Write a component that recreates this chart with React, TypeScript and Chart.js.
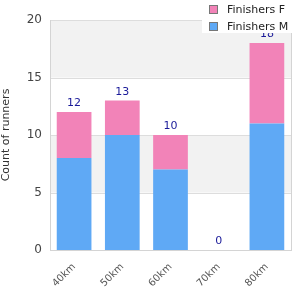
import React, { useEffect, useRef } from "react";
import { Chart, registerables } from "chart.js";
Chart.register(...registerables);

const categories = ["40km", "50km", "60km", "70km", "80km"];
const finishersM = [8, 10, 7, 0, 11];
const finishersF = [4, 3, 3, 0, 7];
const seriesNames = ["Finishers M", "Finishers F"];
const colorM = "#5fa9f5";
const colorF = "#f283b8";
const FONT = "'DejaVu Sans', sans-serif";

const bandsPlugin = {
  id: "bands",
  beforeDatasetsDraw(chart: any) {
    const { ctx, chartArea, scales } = chart;
    const y = scales.y;
    const ticks = y.ticks.map((t: any) => t.value);
    ctx.save();
    for (let i = 0; i < ticks.length - 1; i++) {
      if (i % 2 === 1) {
        const top = y.getPixelForValue(ticks[i + 1]);
        const bot = y.getPixelForValue(ticks[i]);
        ctx.fillStyle = "#f2f2f2";
        ctx.fillRect(chartArea.left, top, chartArea.right - chartArea.left, bot - top);
      }
    }
    ctx.strokeStyle = "#dddddd";
    ctx.lineWidth = 1;
    for (const v of ticks) {
      const py = Math.round(y.getPixelForValue(v)) + 0.5;
      ctx.beginPath();
      ctx.moveTo(chartArea.left, py);
      ctx.lineTo(chartArea.right, py);
      ctx.stroke();
    }
    ctx.strokeStyle = "#d4d4d4";
    ctx.beginPath();
    ctx.moveTo(Math.round(chartArea.left) + 0.5, chartArea.top);
    ctx.lineTo(Math.round(chartArea.left) + 0.5, chartArea.bottom);
    ctx.moveTo(Math.round(chartArea.right) + 0.5, chartArea.top);
    ctx.lineTo(Math.round(chartArea.right) + 0.5, chartArea.bottom + 1);
    ctx.moveTo(chartArea.left, Math.round(chartArea.bottom) + 0.5);
    ctx.lineTo(chartArea.right + 1, Math.round(chartArea.bottom) + 0.5);
    ctx.stroke();
    ctx.restore();
  },
};

const totalsPlugin = {
  id: "totals",
  afterDatasetsDraw(chart: any) {
    const { ctx, scales } = chart;
    ctx.save();
    ctx.fillStyle = "#1a1a99";
    ctx.font = `11px ${FONT}`;
    ctx.textAlign = "center";
    ctx.textBaseline = "bottom";
    categories.forEach((_, i) => {
      const total = finishersM[i] + finishersF[i];
      const x = scales.x.getPixelForValue(i);
      const y = scales.y.getPixelForValue(total) - 3;
      ctx.fillText(String(total), x, y);
    });
    ctx.restore();
  },
};

const legendPlugin = {
  id: "customLegend",
  afterDraw(chart: any) {
    const { ctx } = chart;
    ctx.save();
    ctx.fillStyle = "#ffffff";
    ctx.fillRect(202, 0, 90, 33);
    const items = [
      { label: seriesNames[1], color: colorF },
      { label: seriesNames[0], color: colorM },
    ];
    items.forEach((it, i) => {
      const cy = 10 + i * 17;
      ctx.fillStyle = it.color;
      ctx.fillRect(209.5, cy - 4.5, 8, 8);
      ctx.strokeStyle = "#777777";
      ctx.lineWidth = 1;
      ctx.strokeRect(209.5, cy - 4.5, 8, 8);
      ctx.fillStyle = "#222222";
      ctx.font = `11px ${FONT}`;
      ctx.textAlign = "left";
      ctx.textBaseline = "middle";
      ctx.fillText(it.label, 227, cy);
    });
    ctx.restore();
  },
};

export default function App() {
  const ref = useRef<HTMLCanvasElement>(null);
  useEffect(() => {
    const chart = new Chart(ref.current!, {
      type: "bar",
      data: {
        labels: categories,
        datasets: [
          { label: seriesNames[0], data: finishersM, backgroundColor: colorM, borderWidth: 0 },
          { label: seriesNames[1], data: finishersF, backgroundColor: colorF, borderWidth: 0 },
        ],
      },
      options: {
        animation: false,
        responsive: false,
        layout: { padding: { top: 20, right: 9, left: 0, bottom: 0 } },
        datasets: { bar: { categoryPercentage: 0.8, barPercentage: 0.9 } },
        plugins: { legend: { display: false }, tooltip: { enabled: false } },
        scales: {
          x: {
            stacked: true,
            grid: { display: false, drawTicks: false },
            border: { display: false },
            ticks: {
              color: "#555555",
              font: { family: FONT, size: 10 },
              minRotation: 45,
              maxRotation: 45,
              padding: 11,
            },
            afterFit(s: any) {
              s.height = 50;
            },
          },
          y: {
            stacked: true,
            min: 0,
            max: 20,
            grid: { display: false, drawTicks: false },
            border: { display: false },
            ticks: {
              stepSize: 5,
              color: "#444444",
              font: { family: FONT, size: 12 },
              padding: 8,
            },
            title: {
              display: true,
              text: "Count of runners",
              color: "#333333",
              font: { family: FONT, size: 11 },
              padding: { top: 0, bottom: 0 },
            },
            afterFit(s: any) {
              s.width = 50;
            },
          },
        },
      },
      plugins: [bandsPlugin, totalsPlugin, legendPlugin],
    });
    return () => chart.destroy();
  }, []);
  return (
    <div style={{ position: "fixed", left: 0, top: 0, width: 300, height: 300 }}>
      <canvas ref={ref} width={300} height={300} style={{ display: "block" }} />
    </div>
  );
}
